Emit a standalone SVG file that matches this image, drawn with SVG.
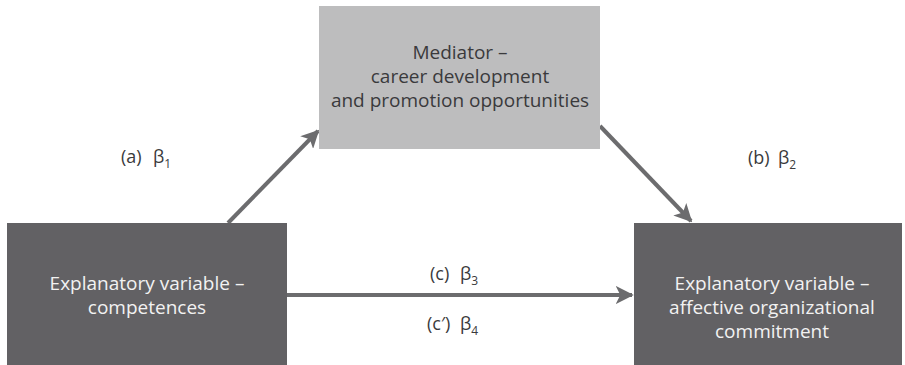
<svg xmlns="http://www.w3.org/2000/svg" width="905" height="365" viewBox="0 0 905 365">
  <style>
    .dark { fill: #626164; }
    .light { fill: #bdbdbe; }
    .txt { font-family: "Open Sans", "Liberation Sans", sans-serif; font-size: 19px; text-anchor: middle; }
    .wt { fill: #f2f2f2; }
    .bt { fill: #3a3a3c; }
    .lbl { font-family: "Open Sans", "Liberation Sans", sans-serif; font-size: 18px; fill: #3a3a3c; }
    .sub { font-size: 12px; }
    .edge { stroke: #6c6c6e; stroke-width: 4; fill: none; marker-end: url(#head); }
  </style>
  <defs>
    <marker id="head" viewBox="0 0 10 10" refX="9" refY="5" markerWidth="4.5" markerHeight="4.5" orient="auto" markerUnits="strokeWidth">
      <path d="M0,0 L10,5 L0,10 L2.5,5 Z" fill="#6c6c6e"/>
    </marker>
  </defs>
  <rect width="905" height="365" fill="#ffffff"/>

  <g id="connectors">
    <line class="edge" x1="228" y1="223" x2="318" y2="131"/>
    <line class="edge" x1="600" y1="126" x2="691" y2="221"/>
    <line class="edge" x1="287" y1="295" x2="632" y2="295"/>
  </g>

  <g id="mediator">
    <rect class="light" x="319" y="6" width="281" height="143"/>
    <text class="txt bt" x="460" y="59">Mediator –</text>
    <text class="txt bt" x="460" y="83">career development</text>
    <text class="txt bt" x="460" y="107">and promotion opportunities</text>
  </g>

  <g id="competences">
    <rect class="dark" x="7" y="223" width="280" height="142"/>
    <text class="txt wt" x="147" y="290">Explanatory variable –</text>
    <text class="txt wt" x="147" y="314">competences</text>
  </g>

  <g id="commitment">
    <rect class="dark" x="634" y="223" width="268" height="142"/>
    <text class="txt wt" x="772" y="290">Explanatory variable –</text>
    <text class="txt wt" x="772" y="314">affective organizational</text>
    <text class="txt wt" x="772" y="338">commitment</text>
  </g>

  <g id="labels">
    <text class="lbl" x="121" y="163">(a)<tspan x="153">β</tspan><tspan class="sub" dy="5">1</tspan></text>
    <text class="lbl" x="748" y="164">(b)<tspan x="778">β</tspan><tspan class="sub" dy="5">2</tspan></text>
    <text class="lbl" x="430" y="280">(c)<tspan x="460">β</tspan><tspan class="sub" dy="5">3</tspan></text>
    <text class="lbl" x="427" y="330">(c′)<tspan x="460">β</tspan><tspan class="sub" dy="5">4</tspan></text>
  </g>
</svg>
